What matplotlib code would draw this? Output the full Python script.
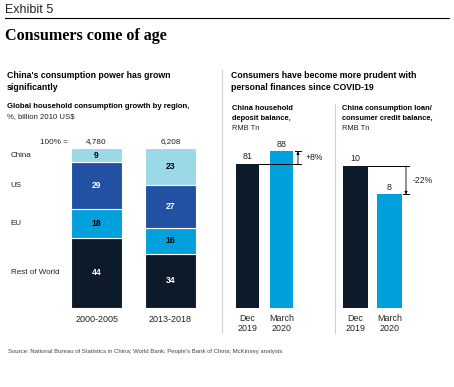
import matplotlib
matplotlib.use("Agg")
import matplotlib.pyplot as plt

plt.rcParams['font.family'] = ['Liberation Sans', 'DejaVu Sans']

W, H = 454, 387

# data
periods = ['2000-2005', '2013-2018']
totals = ['4,780', '6,208']
regions = ['Rest of World', 'EU', 'US', 'China']   # bottom -> top
shares = {
    'Rest of World': [44, 34],
    'EU': [18, 16],
    'US': [29, 27],
    'China': [9, 23],
}
region_colors = {
    'Rest of World': '#0d1a2a',
    'EU': '#00a0dc',
    'US': '#2251a3',
    'China': '#9bd9e6',
}
label_colors = {'Rest of World': 'white', 'EU': 'black', 'US': 'white', 'China': 'black'}

dates = ['Dec\n2019', 'March\n2020']
deposit = [81, 88]
credit = [10, 8]
deposit_change = '+8%'
credit_change = '-22%'
bar_colors = ['#0d1a2a', '#00a0dc']

fig = plt.figure(figsize=(W / 100, H / 100), dpi=100)


def px(x, y):
    return x / W, 1 - y / H


def add_ax(x0, y0, x1, y1):
    return fig.add_axes([x0 / W, 1 - y1 / H, (x1 - x0) / W, (y1 - y0) / H])


def txt(x, y, s, **kw):
    kw.setdefault('va', 'center')
    kw.setdefault('color', '#222222')
    fig.text(*px(x, y), s, **kw)


def clean(ax):
    ax.set_yticks([])
    ax.tick_params(length=0)
    for s in ax.spines.values():
        s.set_visible(False)


# header
txt(5, 10, 'Exhibit 5', fontsize=9)
fig.add_artist(plt.Line2D([5 / W, 449 / W], [1 - 18 / H] * 2, color='black', lw=0.8))
txt(5, 36, 'Consumers come of age', fontsize=11.6, fontweight='bold',
    family=['Liberation Serif', 'DejaVu Serif'], color='black')

# separators
fig.add_artist(plt.Line2D([222 / W] * 2, [1 - 70 / H, 1 - 333 / H], color='#d0d0d0', lw=0.8))
fig.add_artist(plt.Line2D([335 / W] * 2, [1 - 104 / H, 1 - 333 / H], color='#d0d0d0', lw=0.8))

# left panel texts
txt(7, 75, "China's consumption power has grown", fontsize=6.3, fontweight='bold', color='black')
txt(7, 87, 'significantly', fontsize=6.3, fontweight='bold', color='black')
txt(7, 107, 'Global household consumption growth by region,', fontsize=5.6, fontweight='bold', color='black')
txt(7, 117, '%, billion 2010 US$', fontsize=5.6)

# left stacked bars
ax = add_ax(71, 148, 196, 308)
xs = [0, 1]
bottom = [0, 0]
for r in regions:
    vals = shares[r]
    ax.bar(xs, vals, bottom=bottom, width=0.694, color=region_colors[r],
           edgecolor='white', linewidth=0.8)
    for i in range(2):
        ax.text(xs[i], bottom[i] + vals[i] / 2, str(vals[i]), ha='center', va='center',
                fontsize=6.2, color=label_colors[r], fontweight='bold')
    ax.text(-0.347 - 60 / 73.5, bottom[0] + vals[0] / 2, r, ha='left', va='center',
            fontsize=5.8, color='#222222', clip_on=False)
    bottom = [bottom[i] + vals[i] for i in range(2)]
for i in range(2):
    ax.annotate(totals[i], (xs[i], 100), xytext=(0, 2.2), textcoords='offset points',
                ha='center', va='bottom', fontsize=5.9, color='#222222')
ax.set_xlim(-0.347, 1.347)
ax.set_ylim(0, 100)
ax.set_xticks(xs)
ax.set_xticklabels(periods, fontsize=6.5, color='#222222')
clean(ax)
ax.tick_params(pad=5)
txt(68, 142, '100% =', fontsize=5.9, ha='right')

# right panel texts
txt(231, 75, 'Consumers have become more prudent with', fontsize=6.3, fontweight='bold', color='black')
txt(231, 87, 'personal finances since COVID-19', fontsize=6.3, fontweight='bold', color='black')
txt(232, 108.5, 'China household', fontsize=5.4, fontweight='bold', color='black')
txt(232, 118.5, 'deposit balance,', fontsize=5.4, fontweight='bold', color='black')
txt(232, 129, 'RMB Tn', fontsize=5.4)
txt(342, 108.5, 'China consumption loan/', fontsize=5.4, fontweight='bold', color='black')
txt(342, 118.5, 'consumer credit balance,', fontsize=5.4, fontweight='bold', color='black')
txt(342, 129, 'RMB Tn', fontsize=5.4)


def small_bars(ax, vals, width, right, ymax, change, label_x, label_y):
    ax.bar(xs, vals, width=width, color=bar_colors)
    for i in range(2):
        ax.annotate(str(vals[i]), (xs[i], vals[i]), xytext=(0, 2), textcoords='offset points',
                    ha='center', va='bottom', fontsize=6.4, color='#222222')
    xa = 1.485
    ax.plot([width / 2, xa + 0.09], [vals[0], vals[0]], color='black', lw=0.7, zorder=5)
    ax.plot([xa - 0.09, xa + 0.09], [vals[1], vals[1]], color='black', lw=0.7, zorder=5)
    ax.annotate('', xy=(xa, vals[1]), xytext=(xa, vals[0]),
                arrowprops=dict(arrowstyle='-|>', color='black', lw=0.6,
                                mutation_scale=4, shrinkA=0, shrinkB=0))
    ax.text(label_x, label_y, change, ha='left', va='center', fontsize=6.2, color='#222222')
    ax.set_xlim(-width / 2, right)
    ax.set_ylim(0, ymax)
    ax.set_xticks(xs)
    ax.set_xticklabels(dates, fontsize=6.4, color='#222222', linespacing=1.2)
    clean(ax)
    ax.tick_params(pad=4)


ax1 = add_ax(236, 148, 330, 308)
small_bars(ax1, deposit, 0.676, -0.338 + 94 / 34, 160 / 1.78, deposit_change, 1.70, 84.3)

ax2 = add_ax(343, 148, 440, 308)
small_bars(ax2, credit, 0.735, -0.368 + 97 / 34, 160 / 14.2, credit_change, 1.69, 9.0)

txt(8, 352, "Source: National Bureau of Statistics in China; World Bank; People's Bank of China; McKinsey analysis",
    fontsize=4.3, color='#444444')

fig.savefig('out.png', dpi=100)
